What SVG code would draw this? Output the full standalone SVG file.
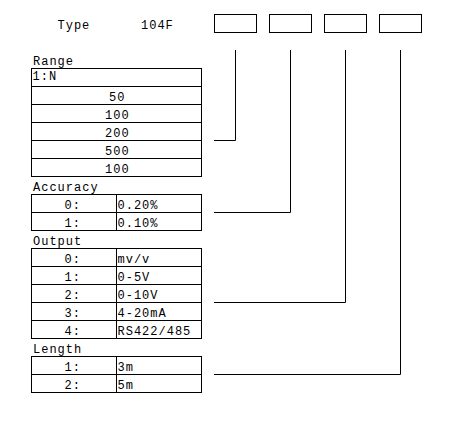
<svg xmlns="http://www.w3.org/2000/svg" width="459" height="425" viewBox="0 0 459 425">
<style>
.t{font-family:"Liberation Mono","DejaVu Sans Mono",monospace;font-size:12px;letter-spacing:1px;fill:#000}
.m{text-anchor:middle}
.b{fill:#fff;stroke:#000;stroke-width:1}
.l{fill:none;stroke:#000;stroke-width:1}
</style>
<rect width="459" height="425" fill="#fff"/>
<g id="header">
<text class="t" x="57.5" y="29">Type</text>
<text class="t" x="141" y="29">104F</text>
</g>
<g id="box1"><rect class="b" x="214.5" y="14.5" width="42" height="18"/></g>
<g id="box2"><rect class="b" x="269.5" y="14.5" width="42" height="18"/></g>
<g id="box3"><rect class="b" x="324.5" y="14.5" width="42" height="18"/></g>
<g id="box4"><rect class="b" x="379.5" y="14.5" width="42" height="18"/></g>
<g id="range">
<text class="t" x="33" y="65">Range</text>
<rect class="b" x="31.5" y="68.5" width="170" height="108"/>
<path class="l" d="M31.5 86.5H201.5M31.5 104.5H201.5M31.5 122.5H201.5M31.5 140.5H201.5M31.5 158.5H201.5"/>
<text class="t" x="32.5" y="80">1:N</text>
<text class="t m" x="117.3" y="101">50</text>
<text class="t m" x="117.3" y="119">100</text>
<text class="t m" x="117.3" y="137">200</text>
<text class="t m" x="117.3" y="155">500</text>
<text class="t m" x="117.3" y="173">100</text>
</g>
<g id="accuracy">
<text class="t" x="33" y="191">Accuracy</text>
<rect class="b" x="31.5" y="194.5" width="170" height="36"/>
<path class="l" d="M31.5 212.5H201.5M116.5 194.5V230.5"/>
<text class="t" x="64.5" y="209">0:</text>
<text class="t" x="117.5" y="209">0.20%</text>
<text class="t" x="64.5" y="227">1:</text>
<text class="t" x="117.5" y="227">0.10%</text>
</g>
<g id="output">
<text class="t" x="33" y="245">Output</text>
<rect class="b" x="31.5" y="248.5" width="170" height="90"/>
<path class="l" d="M31.5 266.5H201.5M31.5 284.5H201.5M31.5 302.5H201.5M31.5 320.5H201.5M116.5 248.5V338.5"/>
<text class="t" x="64.5" y="263">0:</text>
<text class="t" x="117.5" y="263">mv/v</text>
<text class="t" x="64.5" y="281">1:</text>
<text class="t" x="117.5" y="281">0-5V</text>
<text class="t" x="64.5" y="299">2:</text>
<text class="t" x="117.5" y="299">0-10V</text>
<text class="t" x="64.5" y="317">3:</text>
<text class="t" x="117.5" y="317">4-20mA</text>
<text class="t" x="64.5" y="335">4:</text>
<text class="t" x="117.5" y="335">RS422/485</text>
</g>
<g id="length">
<text class="t" x="33" y="353">Length</text>
<rect class="b" x="31.5" y="356.5" width="170" height="36"/>
<path class="l" d="M31.5 374.5H201.5M116.5 356.5V392.5"/>
<text class="t" x="64.5" y="371">1:</text>
<text class="t" x="117.5" y="371">3m</text>
<text class="t" x="64.5" y="389">2:</text>
<text class="t" x="117.5" y="389">5m</text>
</g>
<g id="connectors">
<path class="l" d="M235.5 50V140.5H214"/>
<path class="l" d="M290.5 50V212.5H214"/>
<path class="l" d="M345.5 50V302.5H214"/>
<path class="l" d="M400.5 50V374.5H214"/>
</g>
</svg>
